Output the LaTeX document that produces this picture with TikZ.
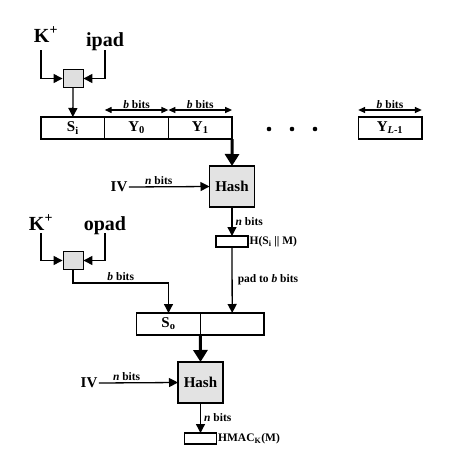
\documentclass[tikz,border=0pt]{standalone}
\usepackage{fontspec}
\setmainfont{Liberation Serif}
\usetikzlibrary{arrows.meta,positioning}
\begin{document}
\begin{tikzpicture}[x=1pt,y=-1pt,line width=1.3pt,
  >={Triangle[length=9pt,width=9pt]},
  font=\bfseries\fontsize{11.5}{13}\selectfont,
  cell/.style={draw,minimum height=22pt,minimum width=63.7pt,inner sep=0pt,outer sep=0pt,
    font=\bfseries\fontsize{15}{17}\selectfont},
  xorbox/.style={draw,fill=gray!25,line width=0.9pt,minimum width=20pt,minimum height=18pt,inner sep=0pt},
  hashbox/.style={draw,fill=gray!22,minimum width=45pt,minimum height=41pt,inner sep=0pt,outer sep=0pt,
    font=\bfseries\fontsize{15}{17}\selectfont},
  outbox/.style={draw,minimum width=32pt,minimum height=11pt,inner sep=0pt,outer sep=0pt},
  keytext/.style={font=\bfseries\fontsize{20}{22}\selectfont,inner sep=0pt},
  ivtext/.style={font=\bfseries\fontsize{15}{17}\selectfont,inner sep=1pt},
  span/.style={{Triangle[length=7pt,width=6pt]}-{Triangle[length=7pt,width=6pt]}},
  fatarrow/.style={line width=3pt,-{Triangle[length=12pt,width=14pt]}}]
\useasboundingbox (0,0) rectangle (453,472);
% inner part
\node[keytext,anchor=base] (k1) at (46,42) {K\textsuperscript{+}};
\node[keytext,anchor=base] (ipad) at (105,46) {ipad};
\coordinate (k1b) at (41,50);
\coordinate (ipadb) at (105,50);
\node[xorbox] (x1) at (73,78.5) {};
\draw[->] (k1b) |- (x1.west);
\draw[->] (ipadb) |- (x1.east);
\node[cell] (si) at (72.85,128) {S\textsubscript{i}};
\node[cell,right=0pt of si] (y0) {Y\textsubscript{0}};
\node[cell,right=0pt of y0] (y1) {Y\textsubscript{1}};
\node[cell] (yl) at (390,128) {Y\textsubscript{\textit{L}-1}};
\foreach \x in {269,292,315} \fill (\x,129) circle (2.3pt);
\draw[->] (x1.south) -- (si.north);
\foreach \c in {y0,y1,yl}
  \draw[span] ([yshift=7pt]\c.north west) -- ([yshift=7pt]\c.north east)
    node[midway,above,inner sep=1pt] {\textit{b} bits};
\node[hashbox] (hash1) at (232,186.5) {Hash};
\draw[fatarrow] (y1.south east) -- (hash1.north);
\node[ivtext] (iv1) at (119,187) {IV};
\draw[->] (iv1.east) -- (hash1.west) node[pos=0.37,above,inner sep=2pt] {\textit{n} bits};
\node[outbox] (out1) at (232,241.5) {};
\draw[->] (hash1.south) -- (out1.north) node[midway,right,inner sep=3pt] {\textit{n} bits};
\node[right,inner sep=1pt] (hsm) at (out1.east) {H(S\textsubscript{i} || M)};
% outer part
\node[keytext,anchor=base] (k2) at (41,230) {K\textsuperscript{+}};
\node[keytext,anchor=base] (opad) at (105,230) {opad};
\coordinate (k2b) at (41,233);
\coordinate (opadb) at (105,233);
\node[xorbox] (x2) at (73,260.5) {};
\draw[->] (k2b) |- (x2.west);
\draw[->] (opadb) |- (x2.east);
\node[cell] (so) at (168.5,324) {S\textsubscript{o}};
\node[cell,right=0pt of so] (blank) {};
\coordinate (bend) at (73,283);
\draw[->] (x2.south) -- (bend) -| (so.north) node[pos=0.25,above,inner sep=2pt] {\textit{b} bits};
\draw[->] (out1.south) -- (blank.north) node[midway,right,inner sep=5pt] {pad to \textit{b} bits};
\node[hashbox] (hash2) at (200.5,382.5) {Hash};
\draw[fatarrow] (so.south east) -- (hash2.north);
\node[ivtext] (iv2) at (89,383) {IV};
\draw[->] (iv2.east) -- (hash2.west) node[pos=0.35,above,inner sep=2pt] {\textit{n} bits};
\node[outbox] (out2) at (200.5,438.5) {};
\draw[->] (hash2.south) -- (out2.north) node[midway,right,inner sep=3pt] {\textit{n} bits};
\node[right,inner sep=1pt] (hmac) at (out2.east) {HMAC\textsubscript{K}(M)};
\end{tikzpicture}
\end{document}
